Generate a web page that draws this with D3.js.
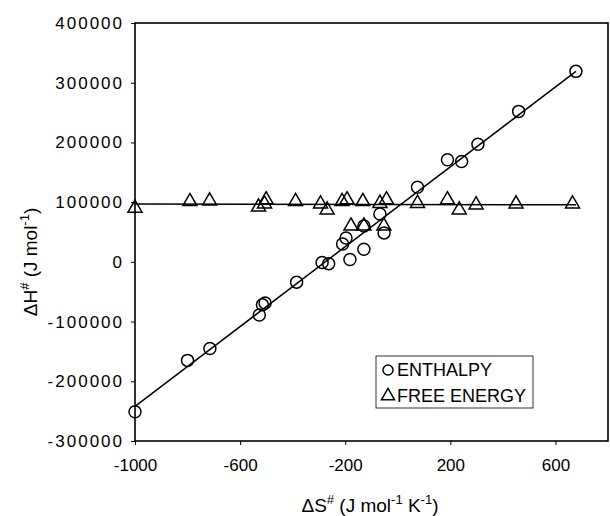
<!DOCTYPE html>
<html>
<head>
<meta charset="utf-8">
<script src="https://cdn.jsdelivr.net/npm/d3@7"></script>
<style>
  body { margin: 0; background: #fff; }
  svg { display: block; font-family: Arial, "Liberation Sans", sans-serif; }
</style>
</head>
<body>
<svg id="chart" width="610" height="516"></svg>
<script>
// ---- data ----
const enthalpyS = [-1000, -800, -715, -527, -515, -505, -385, -288, -263, -210, -197, -182, -129, -129, -68, -52, 75, 189, 243, 305, 460, 678];
const enthalpyH = [-251000, -165000, -145000, -89000, -72000, -69000, -34000, -1000, -3000, 30000, 40000, 4000, 21000, 60000, 80000, 48500, 125000, 171000, 168000, 197000, 252000, 319000];
const freeS = [-1000, -791, -716, -530, -507, -501, -389, -294, -269, -212, -193, -178, -133, -129, -68, -43, -53, 75, 189, 234, 298, 450, 665];
const freeG = [90000, 101000, 102000, 92000, 97000, 104000, 101000, 97000, 87000, 101000, 104000, 60000, 101000, 60000, 98000, 104000, 60000, 98000, 104000, 87000, 95500, 97000, 97000];
const enthalpyFitS = [-1000, 678];
const enthalpyFitH = [-242000, 319000];
const freeFitS = [-1000, 678];
const freeFitG = [97000, 95500];
const xTicks = [-1000, -600, -200, 200, 600];
const yTicks = [-300000, -200000, -100000, 0, 100000, 200000, 300000, 400000];
const legendLabels = ["ENTHALPY", "FREE ENERGY"];

// ---- layout ----
const svg = d3.select("#chart");
const L = 135, R = 608, T = 23, B = 441;
const x = d3.scaleLinear().domain([-1000, 800]).range([L, R]);
const y = d3.scaleLinear().domain([-300000, 400000]).range([B, T]);

// frame
svg.append("rect").attr("x", L).attr("y", T).attr("width", R - L).attr("height", B - T)
  .attr("fill", "none").attr("stroke", "#000").attr("stroke-width", 1.6);

// axes
const yAxis = svg.append("g").attr("transform", `translate(${L},0)`)
  .call(d3.axisLeft(y).tickValues(yTicks).tickSize(4).tickPadding(7).tickFormat(d => String(d)));
yAxis.select(".domain").remove();
yAxis.selectAll("text").attr("font-size", 17).attr("letter-spacing", 2).attr("fill", "#000")
  .attr("font-family", "Arial, 'Liberation Sans', sans-serif");
yAxis.selectAll("line").attr("stroke", "#000");

const xAxis = svg.append("g").attr("transform", `translate(0,${B})`)
  .call(d3.axisBottom(x).tickValues(xTicks).tickSize(4).tickPadding(14).tickFormat(d => String(d)));
xAxis.select(".domain").remove();
xAxis.selectAll("text").attr("font-size", 17).attr("fill", "#000")
  .attr("font-family", "Arial, 'Liberation Sans', sans-serif");
xAxis.selectAll("line").attr("stroke", "#000");

// fit lines
const line = d3.line().x(d => x(d[0])).y(d => y(d[1]));
svg.append("path").datum(enthalpyFitS.map((s, i) => [s, enthalpyFitH[i]]))
  .attr("d", line).attr("fill", "none").attr("stroke", "#000").attr("stroke-width", 1.5);
svg.append("path").datum(freeFitS.map((s, i) => [s, freeFitG[i]]))
  .attr("d", line).attr("fill", "none").attr("stroke", "#000").attr("stroke-width", 1.5);

// markers
const circleSym = d3.symbol().type(d3.symbolCircle).size(Math.PI * 6 * 6);
const triSym = d3.symbol().type(d3.symbolTriangle).size(85);

svg.append("g").selectAll("path").data(enthalpyS.map((s, i) => [s, enthalpyH[i]])).join("path")
  .attr("d", circleSym).attr("transform", d => `translate(${x(d[0])},${y(d[1])})`)
  .attr("fill", "none").attr("stroke", "#000").attr("stroke-width", 1.5);

svg.append("g").selectAll("path").data(freeS.map((s, i) => [s, freeG[i]])).join("path")
  .attr("d", triSym).attr("transform", d => `translate(${x(d[0])},${y(d[1])})`)
  .attr("fill", "none").attr("stroke", "#000").attr("stroke-width", 1.5);

// axis titles
const xt = svg.append("text").attr("x", 370).attr("y", 512).attr("text-anchor", "middle")
  .attr("font-size", 19).attr("fill", "#000");
xt.append("tspan").text("\u0394S");
xt.append("tspan").attr("dy", -8).attr("font-size", 13).text("#");
xt.append("tspan").attr("dy", 8).text(" (J mol");
xt.append("tspan").attr("dy", -8).attr("font-size", 13).text("-1");
xt.append("tspan").attr("dy", 8).text(" K");
xt.append("tspan").attr("dy", -8).attr("font-size", 13).text("-1");
xt.append("tspan").attr("dy", 8).text(")");

const yt = svg.append("text").attr("transform", "translate(37,262) rotate(-90)").attr("text-anchor", "middle")
  .attr("font-size", 19).attr("fill", "#000");
yt.append("tspan").text("\u0394H");
yt.append("tspan").attr("dy", -8).attr("font-size", 13).text("#");
yt.append("tspan").attr("dy", 8).text(" (J mol");
yt.append("tspan").attr("dy", -8).attr("font-size", 13).text("-1");
yt.append("tspan").attr("dy", 8).text(")");

// legend
const lg = svg.append("g");
lg.append("rect").attr("x", 376).attr("y", 356).attr("width", 157).attr("height", 52)
  .attr("fill", "#fff").attr("stroke", "#000").attr("stroke-width", 0.8);
const legSyms = [d3.symbol().type(d3.symbolCircle).size(Math.PI * 5 * 5), d3.symbol().type(d3.symbolTriangle).size(75)];
legendLabels.forEach((lab, i) => {
  const cy = 370 + i * 26;
  lg.append("path").attr("d", legSyms[i]).attr("transform", `translate(388,${cy})`)
    .attr("fill", "none").attr("stroke", "#000").attr("stroke-width", 1.5);
  lg.append("text").attr("x", 397).attr("y", cy + 6).attr("font-size", 18).attr("fill", "#000").text(lab);
});
</script>
</body>
</html>
